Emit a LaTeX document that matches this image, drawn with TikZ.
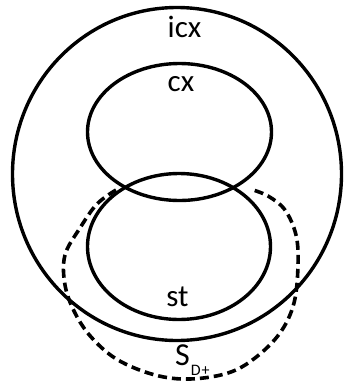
\documentclass[tikz,border=0pt]{standalone}
\usepackage{fontspec}
\setmainfont{Carlito}
\usetikzlibrary{shapes.geometric}
\begin{document}
\begin{tikzpicture}[x=1pt,y=-1pt,
  setline/.style={draw, line width=3.4pt, ellipse, inner sep=0pt, outer sep=0pt},
  lbl/.style={anchor=base, inner sep=0pt, font=\fontsize{31}{36}\selectfont},
  dashline/.style={line width=3.6pt, dash pattern=on 9pt off 5pt}]
\useasboundingbox (0,0) rectangle (347,384);
% the three solid sets
\node[setline, minimum width=329pt, minimum height=333pt] (icx) at (177,174) {};
\node[setline, minimum width=184pt, minimum height=137pt] (cx) at (179.5,132) {};
\node[setline, minimum width=183pt, minimum height=146pt] (st) at (179,246.5) {};
% dashed region S_{D+}
\draw[dashline] plot[smooth, tension=0.6] coordinates {
  (116,190) (97,204) (80,228) (65,255) (65,285) (75,313) (92,338) (118,360)
  (155,375) (190,379) (228,373) (255,358) (280,333) (294,303) (298,265)
  (296,235) (285,210) (268,196) (250,189)};
% labels
\node[lbl] (licx) at (184.5,37) {icx};
\node[lbl] (lcx) at (181,91) {cx};
\node[lbl] (lst) at (177.5,306) {st};
\node[lbl, anchor=base west, font=\fontsize{32}{36}\selectfont] (lsd) at (175,365)
  {S\kern1pt\raisebox{-10pt}{\fontsize{16}{16}\selectfont D\kern1pt+}};
\end{tikzpicture}
\end{document}
